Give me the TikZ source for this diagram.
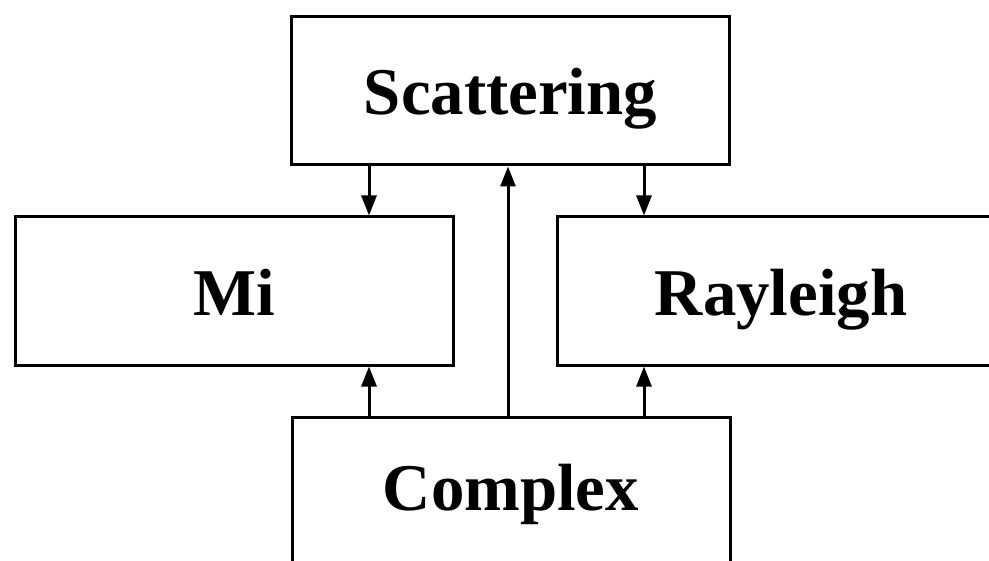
\documentclass[tikz,border=0pt]{standalone}
\usepackage{fontspec}
\setmainfont{Liberation Serif}
\usetikzlibrary{arrows.meta}

\tikzset{
  caja/.style={draw, line width=1.5pt, minimum width=219pt, minimum height=74pt,
    font=\fontsize{33.4}{40}\selectfont\bfseries, inner sep=0pt,
    text height=24pt, text depth=0pt},
  flecha/.style={->, line width=1.5pt},
}

\begin{document}
\begin{tikzpicture}[x=0.5pt, y=-0.5pt, >={Triangle[length=10pt,width=7.5pt]}]

  % Marco del dibujo
  \useasboundingbox (0,0) rectangle (989,561);
  \clip (0,0) rectangle (989,561);

  % Cajas
  \node[caja] (scat) at (510.5,91) {Scattering};
  \node[caja] (mi)   at (234,291)  {Mi};
  \node[caja, minimum width=224pt] (ray) at (781,291) {Rayleigh};
  \node[caja, text height=19pt] (comp) at (511,491) {Complex};

  % Columnas de las flechas
  \coordinate (izq) at (369,0);
  \coordinate (cen) at (508,0);
  \coordinate (der) at (644,0);

  % Flechas
  \draw[flecha] (izq |- scat.south) -- (izq |- mi.north);
  \draw[flecha] (der |- scat.south) -- (der |- ray.north);
  \draw[flecha] (cen |- comp.north) -- (cen |- scat.south);
  \draw[flecha] (izq |- comp.north) -- (izq |- mi.south);
  \draw[flecha] (der |- comp.north) -- (der |- ray.south);

\end{tikzpicture}
\end{document}
